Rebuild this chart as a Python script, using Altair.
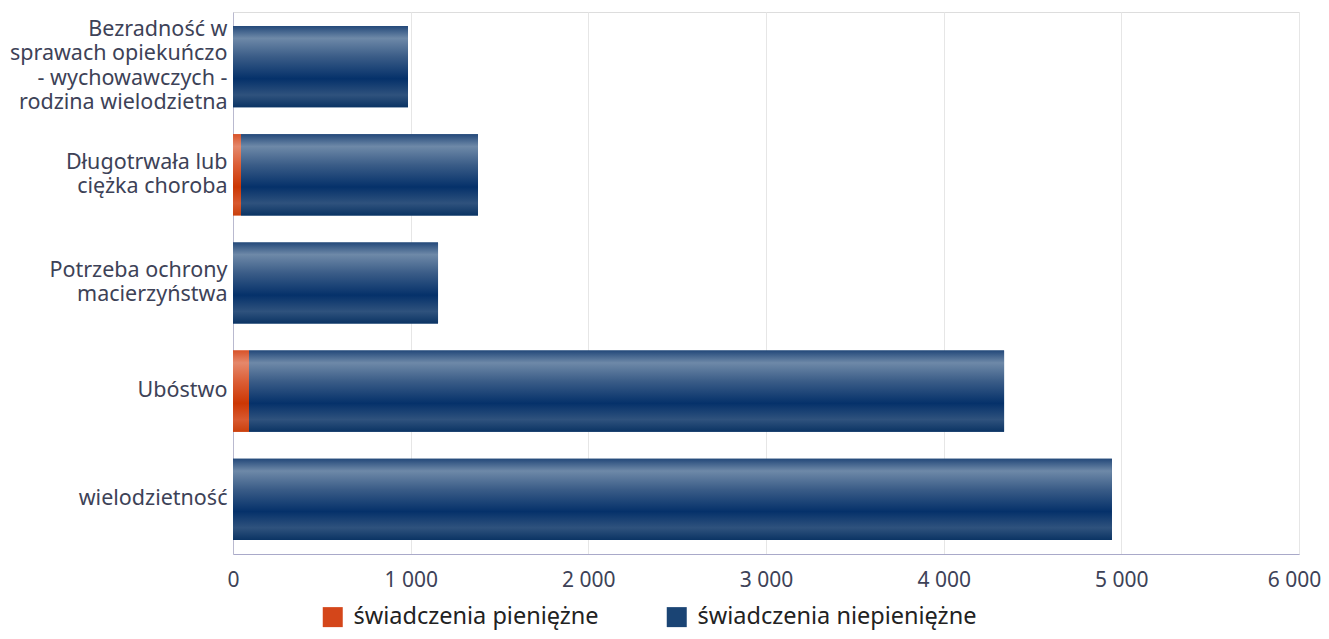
import altair as alt
import pandas as pd

categories = [
    "Bezradność w|sprawach opiekuńczo|- wychowawczych -|rodzina wielodzietna",
    "Długotrwała lub|ciężka choroba",
    "Potrzeba ochrony|macierzyństwa",
    "Ubóstwo",
    "wielodzietność",
]
series = ["świadczenia pieniężne", "świadczenia niepieniężne"]
pieniezne = [0, 45, 0, 90, 0]
niepieniezne = [985, 1334, 1154, 4250, 4947]
x_ticks = [0, 1000, 2000, 3000, 4000, 5000, 6000]

rows = []
for c, p, n in zip(categories, pieniezne, niepieniezne):
    rows.append({"cat": c, "series": series[0], "start": 0, "end": p})
    rows.append({"cat": c, "series": series[1], "start": p, "end": p + n})
df = pd.DataFrame(rows)

FONT = "Noto Sans"
TXT = "#3d4257"
LH = 24.5

blue_grad = alt.Gradient(
    gradient="linear", x1=0, y1=0, x2=0, y2=1,
    stops=[
        alt.GradientStop(offset=0.0, color="#24497a"),
        alt.GradientStop(offset=0.15, color="#6e89a8"),
        alt.GradientStop(offset=0.38, color="#3a5c87"),
        alt.GradientStop(offset=0.65, color="#05316a"),
        alt.GradientStop(offset=0.85, color="#2f527d"),
        alt.GradientStop(offset=1.0, color="#0b3464"),
    ],
)
orange_grad = alt.Gradient(
    gradient="linear", x1=0, y1=0, x2=0, y2=1,
    stops=[
        alt.GradientStop(offset=0.0, color="#d8532a"),
        alt.GradientStop(offset=0.15, color="#e5886b"),
        alt.GradientStop(offset=0.38, color="#db5e36"),
        alt.GradientStop(offset=0.65, color="#cc3704"),
        alt.GradientStop(offset=0.85, color="#d8592f"),
        alt.GradientStop(offset=1.0, color="#c9400d"),
    ],
)

n_lines = "length(split(datum.value, '|'))"
y_enc = alt.Y(
    "cat:N", sort=categories, title=None,
    scale=alt.Scale(paddingInner=0.25, paddingOuter=0.13),
    axis=alt.Axis(
        labelExpr="split(datum.label, '|')", labelFont=FONT, labelFontSize=21.5,
        labelColor=TXT, labelLineHeight=LH, labelPadding=6, labelLimit=400,
        ticks=False, domainColor="#b9b9cf", grid=False, labelAlign="right",
        labelBaseline="middle",
        labelOffset={
            "condition": [
                {"test": n_lines + " == 4", "value": -1.5 * LH},
                {"test": n_lines + " == 2", "value": -0.5 * LH},
            ],
            "value": 0,
        },
    ),
)
x_enc = alt.X(
    "start:Q", title=None,
    scale=alt.Scale(domain=[0, 6000], nice=False),
    axis=alt.Axis(
        values=x_ticks, labelExpr="replace(format(datum.value, ','), ',', ' ')",
        labelFont=FONT, labelFontSize=21, labelColor=TXT, labelPadding=15,
        labelFlush=False, ticks=False, domainColor="#a9a9c9",
        grid=True, gridColor="#e6e6e6",
        labelOffset={
            "condition": {"test": "datum.value == 6000", "value": -5},
            "value": 0,
        },
    ),
)

base = alt.Chart(df).transform_filter("datum.end > datum.start")

legend_layer = base.mark_bar().encode(
    y=y_enc, x=x_enc, x2="end:Q",
    color=alt.Color(
        "series:N", sort=series, title=None,
        scale=alt.Scale(domain=series, range=["#d4461a", "#1a4474"]),
        legend=alt.Legend(
            orient="none", direction="horizontal", legendX=88, legendY=593,
            symbolType="square", symbolSize=400, symbolStrokeWidth=0,
            labelFont=FONT, labelFontSize=23.5, labelColor="#222222",
            columnPadding=66, labelOffset=9, labelLimit=500,
        ),
    ),
)
orange_layer = base.transform_filter(alt.datum.series == series[0]).mark_bar(
    fill=orange_grad
).encode(y=y_enc, x=x_enc, x2="end:Q")
blue_layer = base.transform_filter(alt.datum.series == series[1]).mark_bar(
    fill=blue_grad
).encode(y=y_enc, x=x_enc, x2="end:Q")

chart = (
    alt.layer(legend_layer, orange_layer, blue_layer)
    .properties(
        width=1066, height=542,
        autosize=alt.AutoSizeParams(type="none"),
        padding={"left": 225, "top": 4, "right": 22, "bottom": 77},
    )
    .configure_view(strokeWidth=0)
    .configure(background="white")
)

chart.save("out.html", embed_options={"renderer": "svg", "actions": False})
